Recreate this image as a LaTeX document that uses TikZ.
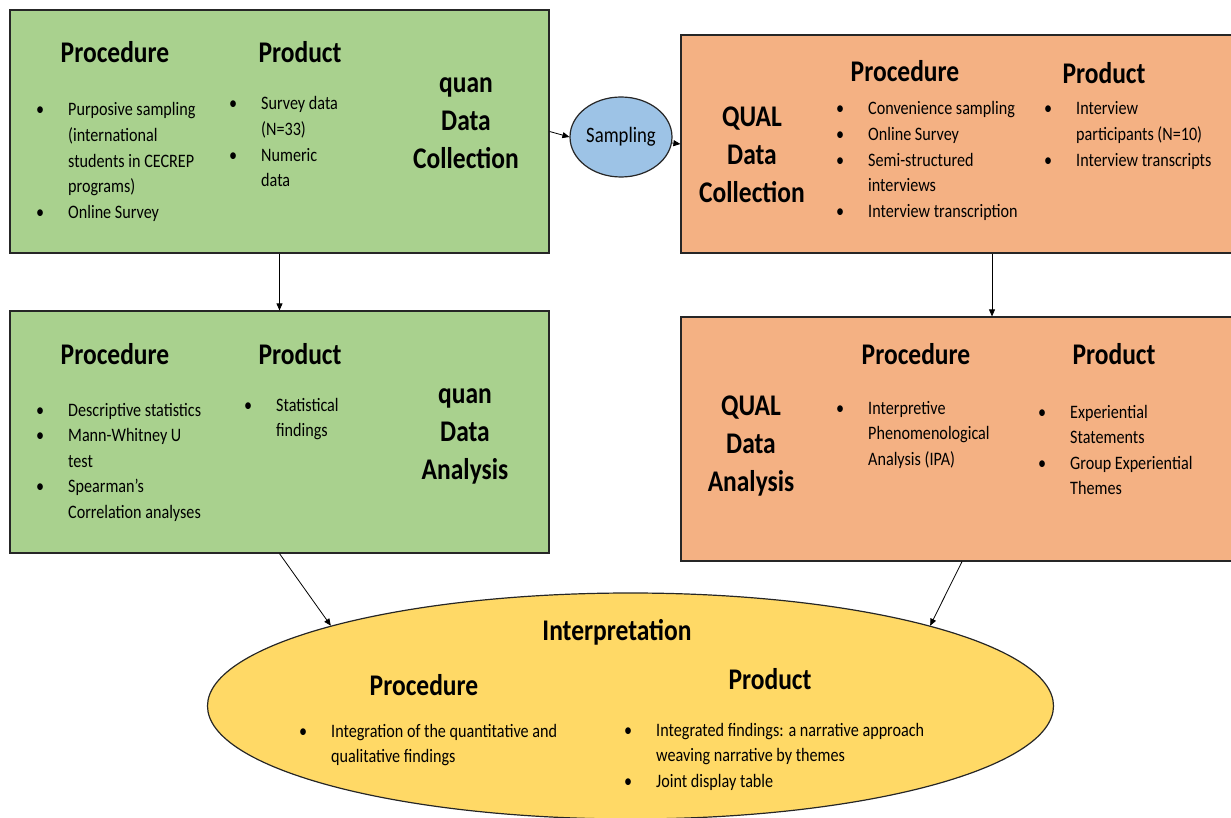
\documentclass[tikz,border=0pt]{standalone}
\usepackage{fontspec}
\setmainfont{Carlito}[FakeStretch=0.85]
\usetikzlibrary{shapes.geometric,arrows.meta}
\definecolor{quangreen}{RGB}{169,209,142}
\definecolor{qualorange}{RGB}{244,177,131}
\definecolor{sampblue}{RGB}{157,195,230}
\definecolor{interpyellow}{RGB}{255,217,102}
\newcommand{\blist}[1]{\begin{tabular}[t]{@{}p{32pt}@{}l@{}}#1\end{tabular}}
\newcommand{\bu}{\textbullet}
\begin{document}
\begin{tikzpicture}[x=1pt,y=-1pt,
    box/.style={draw=black!85,line width=1.2pt,minimum width=539pt,inner sep=0pt},
    head/.style={font=\bfseries\fontsize{30}{38}\selectfont,anchor=base,inner sep=0pt},
    title/.style={font=\bfseries\fontsize{30}{38}\selectfont,align=center,inner sep=0pt},
    items/.style={font=\fontsize{19}{25.6}\selectfont,anchor=base west,inner sep=0pt}]
  \useasboundingbox (0,0) rectangle (1231,818);
  \clip (0,0) rectangle (1231,818);
  % boxes
  \node[box,fill=quangreen,minimum height=243pt] (qcol) at (279.5,131.5) {};
  \node[box,fill=quangreen,minimum height=242pt] (qana) at (279.5,432) {};
  \node[box,fill=qualorange,minimum width=622pt,minimum height=218pt] (Qcol) at (992,144) {};
  \node[box,fill=qualorange,minimum width=622pt,minimum height=244pt] (Qana) at (992,439) {};
  \node[ellipse,draw=black!85,line width=1.2pt,fill=sampblue,minimum width=102pt,minimum height=80pt,
    inner sep=0pt,font=\fontsize{22}{26}\selectfont] (samp) at (621,137) {Sampling};
  \node[ellipse,draw=black!85,line width=1.2pt,fill=interpyellow,minimum width=846pt,minimum height=226pt,
    inner sep=0pt] (interp) at (630.5,706) {};
  % quan data collection
  \node[head] (qcolproc) at (115,63) {Procedure};
  \node[head] (qcolprod) at (300,63) {Product};
  \node[items] (qcolproclist) at (36,116) {\blist{\bu & Purposive sampling\\ & (international\\
    & students in CECREP\\ & programs)\\ \bu & Online Survey}};
  \node[items] (qcolprodlist) at (229,110) {\blist{\bu & Survey data\\ & (N=33)\\ \bu & Numeric\\ & data}};
  \node[title] (qcoltitle) at (466,123) {quan\\Data\\Collection};
  % QUAL data collection
  \node[title] (Qcoltitle) at (752,155) {QUAL\\Data\\Collection};
  \node[head] (Qcolproc) at (905,82) {Procedure};
  \node[head] (Qcolprod) at (1104,84) {Product};
  \node[items] (Qcolproclist) at (836,115) {\blist{\bu & Convenience sampling\\ \bu & Online Survey\\
    \bu & Semi-structured\\ & interviews\\ \bu & Interview transcription}};
  \node[items] (Qcolprodlist) at (1044,115) {\blist{\bu & Interview\\ & participants (N=10)\\
    \bu & Interview transcripts}};
  % quan data analysis
  \node[head] (qanaproc) at (115,364) {Procedure};
  \node[head] (qanaprod) at (300,364) {Product};
  \node[items] (qanaproclist) at (36,416) {\blist{\bu & Descriptive statistics\\ \bu & Mann-Whitney U\\
    & test\\ \bu & Spearman’s\\ & Correlation analyses}};
  \node[items] (qanaprodlist) at (244,411) {\blist{\bu & Statistical\\ & findings}};
  \node[title] (qanatitle) at (465,436) {quan\\Data\\Analysis};
  % QUAL data analysis
  \node[title] (Qanatitle) at (751,446) {QUAL\\Data\\Analysis};
  \node[head] (Qanaproc) at (916,364) {Procedure};
  \node[head] (Qanaprod) at (1114,364) {Product};
  \node[items] (Qanaproclist) at (836,414) {\blist{\bu & Interpretive\\ & Phenomenological\\ & Analysis (IPA)}};
  \node[items] (Qanaprodlist) at (1038,418) {\blist{\bu & Experiential\\ & Statements\\
    \bu & Group Experiential\\ & Themes}};
  % interpretation
  \node[head] (interptitle) at (617,640) {Interpretation};
  \node[head] (interpproc) at (424,695) {Procedure};
  \node[head] (interpprod) at (770,689) {Product};
  \node[items] (interpproclist) at (299,737) {\blist{\bu & Integration of the quantitative and\\
    & qualitative findings}};
  \node[items] (interpprodlist) at (624,736) {\blist{\bu & Integrated findings: a narrative approach\\
    & weaving narrative by themes\\ \bu & Joint display table}};
  \begin{scope}[-{Triangle[length=7pt,width=6pt]},line width=0.8pt]
    \draw (qcol.east) to (samp.west);
    \draw (samp) to (Qcol.west);
    \draw (qcol) to (qana);
    \draw (Qcol) to (Qana);
    \draw (qana.south) to (interp.165);
    \draw ([xshift=-30pt]Qana.south) to (interp.15);
  \end{scope}
\end{tikzpicture}
\end{document}
